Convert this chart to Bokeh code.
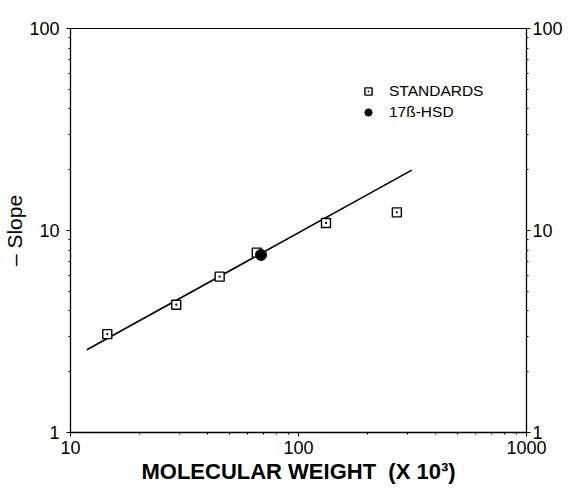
from bokeh.plotting import figure
from bokeh.models import (LogAxis, FixedTicker, NumeralTickFormatter, Range1d,
                          Legend, LegendItem)
from bokeh.embed import file_html
from bokeh.resources import INLINE

# ---- data ----
std_mw = [14.5, 29.1, 45.1, 65.6, 132.0, 270.0]
std_slope = [3.07, 4.29, 5.91, 7.77, 10.9, 12.3]
hsd_mw = [68.5]
hsd_slope = [7.57]
fit_mw = [11.8, 314.0]
fit_slope = [2.57, 19.9]
major_ticks = [1, 10, 100, 1000]
x_minor = [20, 30, 40, 50, 60, 70, 80, 90, 200, 300, 400, 500, 600, 700, 800, 900]
y_minor = [2, 3, 4, 5, 6, 7, 8, 9, 20, 30, 40, 50, 60, 70, 80, 90]

FONT = "Liberation Sans"

p = figure(x_axis_type="log", y_axis_type="log",
           x_range=Range1d(10, 1000), y_range=Range1d(1, 100),
           frame_width=456, frame_height=404,
           min_border_left=61, min_border_right=37,
           min_border_top=28, min_border_bottom=56,
           output_backend="svg", toolbar_location=None,
           background_fill_color="white", border_fill_color="white")
p.xgrid.visible = False
p.ygrid.visible = False
p.outline_line_color = "black"
p.outline_line_width = 1

def style_axis(ax, minor):
    ax.ticker = FixedTicker(ticks=major_ticks, minor_ticks=minor)
    ax.formatter = NumeralTickFormatter(format="0")
    ax.axis_line_color = "black"
    ax.axis_line_width = 1.3
    ax.major_tick_line_color = "black"
    ax.minor_tick_line_color = "black"
    ax.major_tick_in = 0
    ax.major_tick_out = 4
    ax.minor_tick_in = 0
    ax.minor_tick_out = 2
    ax.major_label_text_font = FONT
    ax.major_label_text_font_size = "18px"
    ax.major_label_text_color = "black"

xa = p.xaxis[0]
style_axis(xa, x_minor)
xa.major_label_standoff = 4
xa.axis_label = "MOLECULAR WEIGHT\u00a0\u00a0(X 10\u00b3)"
xa.axis_label_text_font = FONT
xa.axis_label_text_font_style = "bold"
xa.axis_label_text_font_size = "22px"
xa.axis_label_text_color = "black"
xa.axis_label_standoff = 2

ya = p.yaxis[0]
style_axis(ya, y_minor)
ya.major_label_standoff = 7
ya.axis_label = "\u2013 Slope"
ya.axis_label_text_font = FONT
ya.axis_label_text_font_style = "normal"
ya.axis_label_text_font_size = "21px"
ya.axis_label_text_color = "black"
ya.axis_label_standoff = 0

ra = LogAxis()
style_axis(ra, y_minor)
ra.major_label_standoff = 2
p.add_layout(ra, "right")

fit = p.line(fit_mw, fit_slope, line_color="black", line_width=1.6)
std = p.scatter(std_mw, std_slope, marker="square_dot", size=9,
                fill_color="white", line_color="black", line_width=1.4)
hsd = p.scatter(hsd_mw, hsd_slope, marker="circle", size=11,
                fill_color="black", line_color="black")

legend = Legend(items=[LegendItem(label="STANDARDS", renderers=[std]),
                       LegendItem(label="17\u00df-HSD", renderers=[hsd])],
                location=(288, 311), padding=0, margin=0,
                glyph_width=20, glyph_height=18, spacing=3, label_standoff=11,
                label_text_font=FONT, label_text_font_size="15.5px",
                label_text_color="black", label_height=18,
                border_line_color=None, background_fill_alpha=0)
p.add_layout(legend)

open("out.html", "w").write(file_html(p, INLINE))
